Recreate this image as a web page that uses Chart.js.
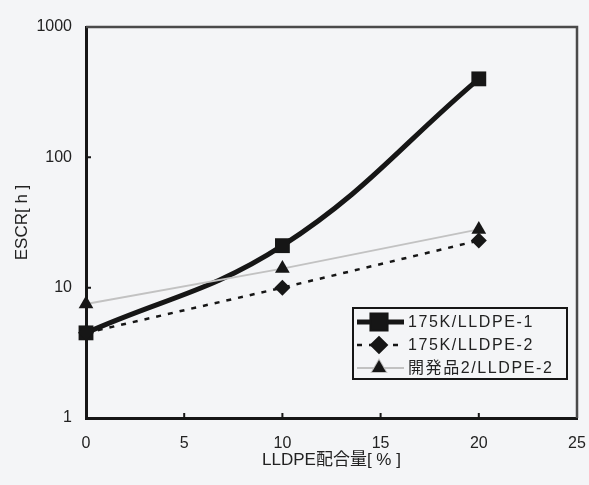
<!DOCTYPE html>
<html>
<head>
<meta charset="utf-8">
<script src="https://cdn.jsdelivr.net/npm/chart.js@4.4.1/dist/chart.umd.min.js"></script>
<style>
  html, body { margin: 0; padding: 0; background: #f4f5f7; }
  #wrap { width: 589px; height: 485px; position: relative; }
</style>
</head>
<body>
<div id="wrap"><canvas id="escrChart"></canvas></div>
<script>
// ===== DATA =====
const xValues = [0, 10, 20];
const seriesNames = ["175K/LLDPE-1", "175K/LLDPE-2", "開発品2/LLDPE-2"];
const escr175k1 = [4.5, 21, 400];
const escr175k2 = [4.5, 10, 23];
const escrDev2 = [7.5, 14, 28];
const yTickValues = [1, 10, 100, 1000];
const xTickValues = [0, 5, 10, 15, 20, 25];

const FONT = "'Liberation Sans', Arial, 'Noto Sans CJK JP', sans-serif";
const TEXT = "#222222";

function toPoints(values) {
    return xValues.map((x, i) => ({ x: x, y: values[i] }));
}

const seriesStyles = [
    { color: "#161616", width: 5, dash: [], point: "rect", radius: 10.5, pointColor: "#161616", tension: 0.4 },
    { color: "#161616", width: 2.5, dash: [5, 7], point: "rectRot", radius: 8, pointColor: "#161616", tension: 0 },
    { color: "#c2c2c2", width: 2, dash: [], point: "triangle", radius: 8.5, pointColor: "#161616", tension: 0 }
];

const seriesData = [escr175k1, escr175k2, escrDev2];

// frame + inward ticks + legend box
const framePlugin = {
    id: "frame",
    afterDatasetsDraw(chart) {
        const { ctx, chartArea: a, scales } = chart;
        ctx.save();

        // top / right border
        ctx.strokeStyle = "#4a4a4a";
        ctx.lineWidth = 2.5;
        ctx.beginPath();
        ctx.moveTo(a.left, a.top);
        ctx.lineTo(a.right, a.top);
        ctx.lineTo(a.right, a.bottom);
        ctx.stroke();

        // inward tick marks
        ctx.strokeStyle = "#161616";
        ctx.lineWidth = 2;
        ctx.beginPath();
        yTickValues.slice(1, -1).forEach(v => {
            const y = scales.y.getPixelForValue(v);
            ctx.moveTo(a.left, y);
            ctx.lineTo(a.left + 5, y);
        });
        xTickValues.slice(1, -1).forEach(v => {
            const x = scales.x.getPixelForValue(v);
            ctx.moveTo(x, a.bottom);
            ctx.lineTo(x, a.bottom - 5);
        });
        ctx.stroke();

        // legend
        const bx = a.right - 224, by = a.bottom - 110, bw = 214, bh = 71;
        ctx.fillStyle = "#f4f5f7";
        ctx.fillRect(bx, by, bw, bh);
        ctx.strokeStyle = "#161616";
        ctx.lineWidth = 2;
        ctx.strokeRect(bx, by, bw, bh);

        ctx.font = "16px " + FONT;
        ctx.letterSpacing = "1.6px";
        ctx.textBaseline = "middle";
        ctx.textAlign = "left";
        seriesStyles.forEach((s, i) => {
            const cy = by + 14 + i * 23;
            ctx.strokeStyle = s.color;
            ctx.lineWidth = s.width;
            ctx.setLineDash(s.dash);
            ctx.beginPath();
            ctx.moveTo(bx + 4, cy);
            ctx.lineTo(bx + 51, cy);
            ctx.stroke();
            ctx.setLineDash([]);
            Chart.helpers.drawPoint(ctx, {
                pointStyle: s.point,
                radius: s.radius * 0.95,
                borderWidth: 1
            }, bx + 26, cy);
            ctx.fillStyle = s.pointColor;
            ctx.fill();
            ctx.fillStyle = TEXT;
            ctx.fillText(seriesNames[i], bx + 55, cy + 1);
        });
        ctx.restore();
    }
};

const ctx = document.getElementById("escrChart").getContext("2d");

new Chart(ctx, {
    type: "line",
    data: {
        datasets: seriesData.map((vals, i) => ({
            label: seriesNames[i],
            data: toPoints(vals),
            borderColor: seriesStyles[i].color,
            borderWidth: seriesStyles[i].width,
            borderDash: seriesStyles[i].dash,
            tension: seriesStyles[i].tension,
            pointStyle: seriesStyles[i].point,
            pointRadius: seriesStyles[i].radius,
            pointBackgroundColor: seriesStyles[i].pointColor,
            pointBorderColor: seriesStyles[i].pointColor,
            pointBorderWidth: 0,
            clip: false,
            fill: false
        })).reverse()
    },
    options: {
        responsive: true,
        maintainAspectRatio: false,
        animation: false,
        layout: { padding: { left: 0, top: 27, right: 12, bottom: 0 } },
        plugins: {
            legend: { display: false },
            tooltip: { enabled: false }
        },
        scales: {
            x: {
                type: "linear",
                min: 0,
                max: 25,
                afterBuildTicks(scale) {
                    scale.ticks = xTickValues.map(v => ({ value: v }));
                },
                afterFit(scale) {
                    scale.height = 67;
                    scale.paddingLeft = 0;
                    scale.paddingRight = 0;
                },
                grid: { display: false, drawTicks: false },
                border: { display: true, color: "#161616", width: 3 },
                ticks: {
                    padding: 16,
                    color: TEXT,
                    font: { family: FONT, size: 16 },
                    maxRotation: 0
                },
                title: {
                    display: true,
                    text: "LLDPE配合量[ % ]",
                    color: TEXT,
                    font: { family: FONT, size: 17 },
                    padding: { top: 4, bottom: 14 }
                }
            },
            y: {
                type: "logarithmic",
                min: 1,
                max: 1000,
                afterBuildTicks(scale) {
                    scale.ticks = yTickValues.map(v => ({ value: v }));
                },
                afterFit(scale) {
                    scale.width = 86;
                    scale.paddingTop = 0;
                    scale.paddingBottom = 0;
                },
                grid: { display: false, drawTicks: false },
                border: { display: true, color: "#161616", width: 3 },
                ticks: {
                    padding: 14,
                    color: TEXT,
                    font: { family: FONT, size: 16 },
                    callback: v => String(v)
                },
                title: {
                    display: true,
                    text: "ESCR[ h ]",
                    color: TEXT,
                    font: { family: FONT, size: 17 },
                    padding: { top: 12, bottom: 0 }
                }
            }
        }
    },
    plugins: [framePlugin]
});
</script>
</body>
</html>
